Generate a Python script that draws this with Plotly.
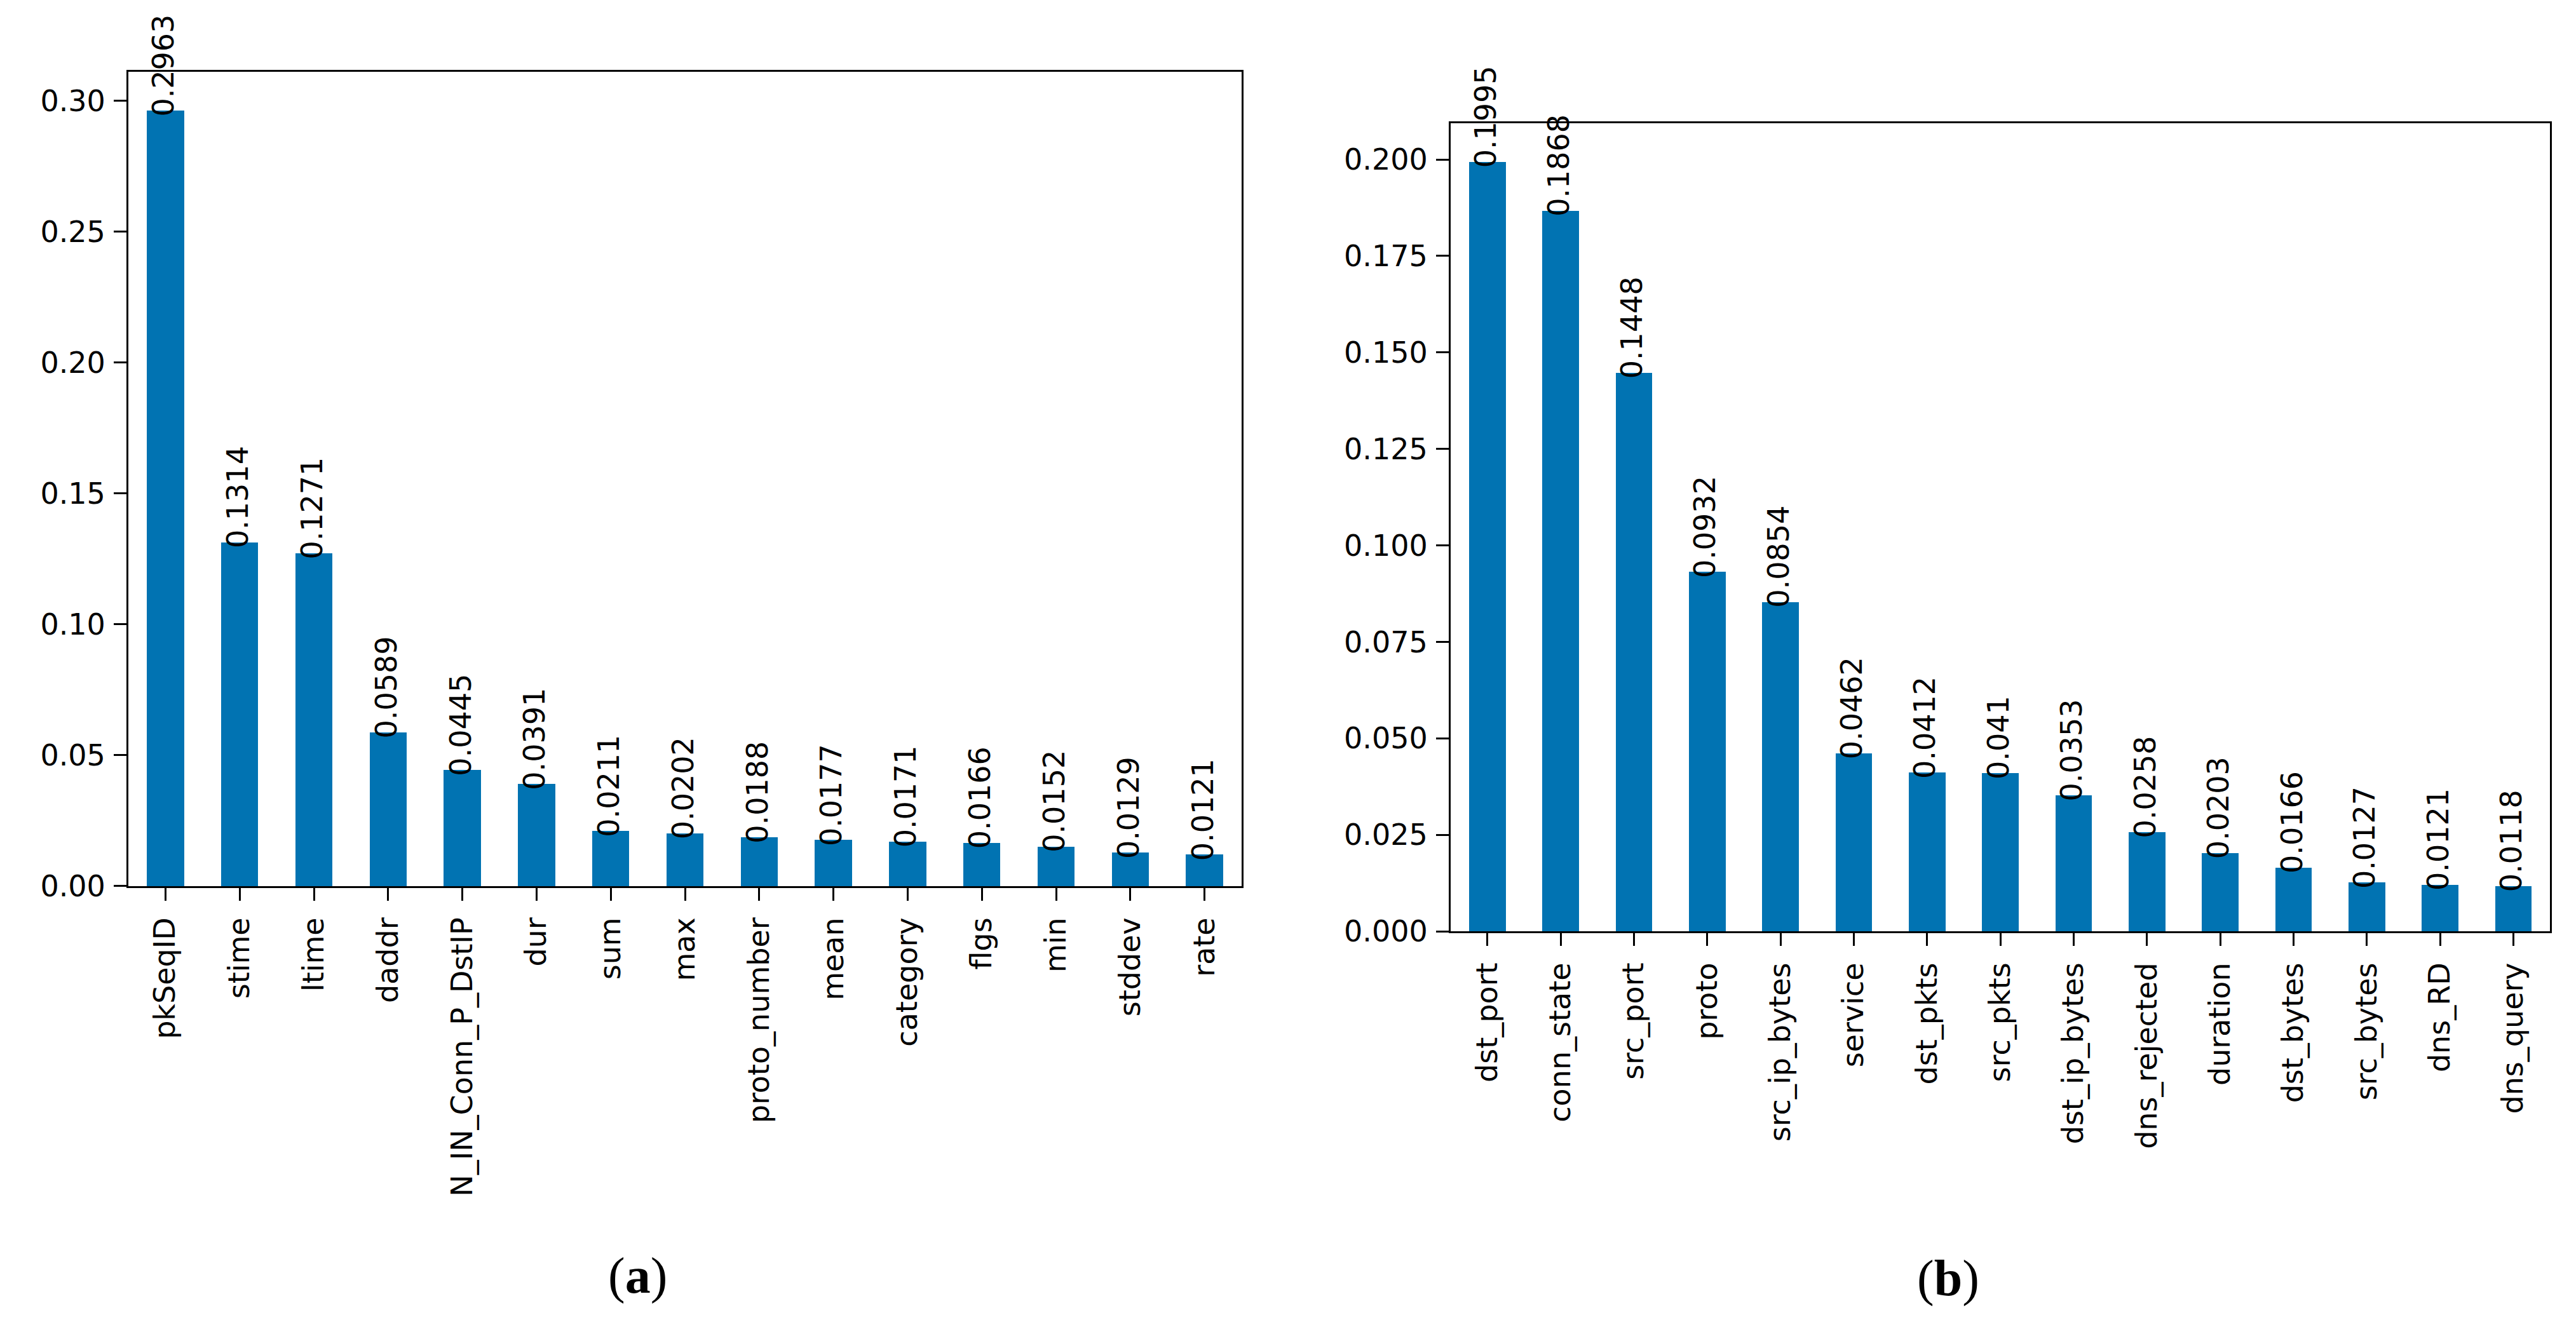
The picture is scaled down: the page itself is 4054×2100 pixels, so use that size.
import plotly.graph_objects as go

# ---- data ----
features_a = ["pkSeqID", "stime", "ltime", "daddr", "N_IN_Conn_P_DstIP", "dur", "sum", "max",
              "proto_number", "mean", "category", "flgs", "min", "stddev", "rate"]
importance_a = [0.2963, 0.1314, 0.1271, 0.0589, 0.0445, 0.0391, 0.0211, 0.0202,
                0.0188, 0.0177, 0.0171, 0.0166, 0.0152, 0.0129, 0.0121]

features_b = ["dst_port", "conn_state", "src_port", "proto", "src_ip_bytes", "service", "dst_pkts",
              "src_pkts", "dst_ip_bytes", "dns_rejected", "duration", "dst_bytes", "src_bytes",
              "dns_RD", "dns_query"]
importance_b = [0.1995, 0.1868, 0.1448, 0.0932, 0.0854, 0.0462, 0.0412, 0.041, 0.0353,
                0.0258, 0.0203, 0.0166, 0.0127, 0.0121, 0.0118]

captions = ["(<b>a</b>)", "(<b>b</b>)"]

W, H = 4054, 2100
BAR = "#0173B2"
FONT = "DejaVu Sans"
FS = 46

fig = go.Figure()
fig.add_trace(go.Bar(x=features_a, y=importance_a, width=0.5, marker=dict(color=BAR, line_width=0),
                     xaxis="x", yaxis="y", showlegend=False))
fig.add_trace(go.Bar(x=features_b, y=importance_b, width=0.5, marker=dict(color=BAR, line_width=0),
                     xaxis="x2", yaxis="y2", showlegend=False))

ann = []
for feats, vals, xr, yr in [(features_a, importance_a, "x", "y"), (features_b, importance_b, "x2", "y2")]:
    for f, v in zip(feats, vals):
        ann.append(dict(x=f, y=v, xref=xr, yref=yr, text=str(v), showarrow=False,
                        textangle=-90, xanchor="center", yanchor="bottom", yshift=-12, xshift=-3,
                        font=dict(family=FONT, size=FS, color="black")))

ann.append(dict(x=995 / W, y=1 - 2027 / H, xref="paper", yref="paper", text=captions[0], showarrow=False,
                xanchor="center", yanchor="middle", font=dict(family="Liberation Serif", size=80, color="black")))
ann.append(dict(x=3058 / W, y=1 - 2031 / H, xref="paper", yref="paper", text=captions[1], showarrow=False,
                xanchor="center", yanchor="middle", font=dict(family="Liberation Serif", size=80, color="black")))

axis_common = dict(showline=True, linecolor="black", linewidth=3, mirror=True, ticks="outside",
                   ticklen=20, tickwidth=3, tickcolor="black", showgrid=False, zeroline=False,
                   tickfont=dict(family=FONT, size=FS, color="black"))

fig.update_layout(
    width=W, height=H, margin=dict(l=0, r=0, t=0, b=0),
    paper_bgcolor="white", plot_bgcolor="white", bargap=0,
    xaxis=dict(domain=[194 / W, 1946 / W], type="category", range=[-0.5, 14.5], tickangle=-90,
               anchor="y", ticklabelstandoff=8, **axis_common),
    yaxis=dict(domain=[1 - 1405 / H, 1 - 106 / H], range=[0, 0.2963 * 1.05], dtick=0.05, tickformat=".2f",
               anchor="x", ticklabelstandoff=4, **axis_common),
    xaxis2=dict(domain=[2275 / W, 4005 / W], type="category", range=[-0.5, 14.5], tickangle=-90,
                anchor="y2", ticklabelstandoff=8, **axis_common),
    yaxis2=dict(domain=[1 - 1477 / H, 1 - 188 / H], range=[0, 0.1995 * 1.05], dtick=0.025, tickformat=".3f",
                anchor="x2", ticklabelstandoff=4, **axis_common),
    annotations=ann,
)

fig.write_html("out.html")
